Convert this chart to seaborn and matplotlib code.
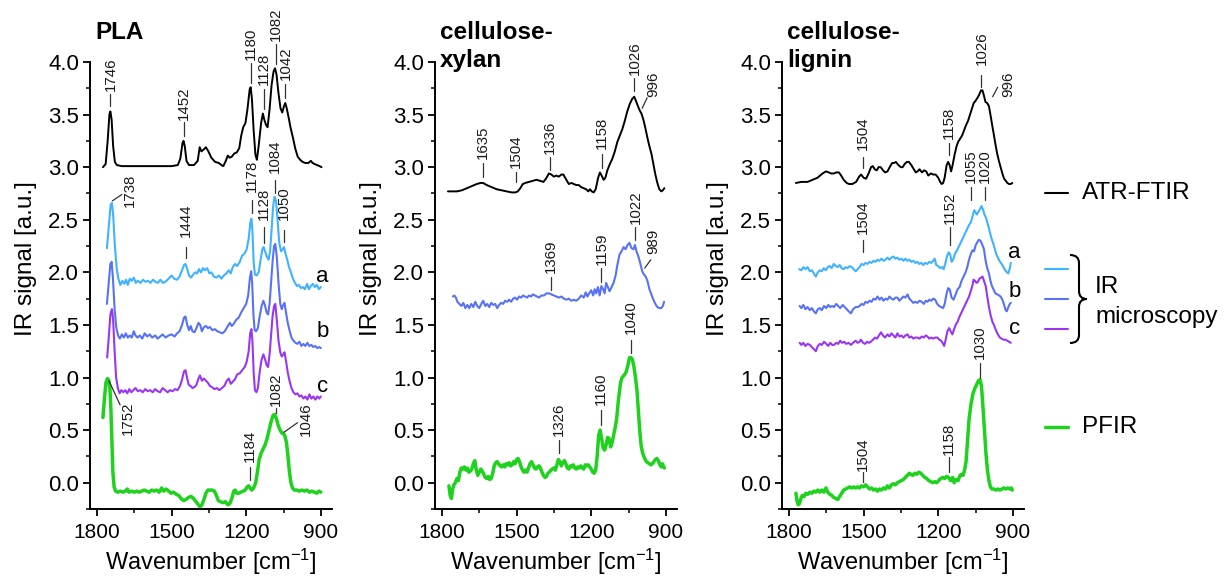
import numpy as np
import pandas as pd
import matplotlib
matplotlib.use("Agg")
import matplotlib.pyplot as plt
import seaborn as sns
from matplotlib.ticker import MultipleLocator, FixedLocator, FormatStrFormatter
from matplotlib.lines import Line2D
from matplotlib.path import Path
from matplotlib.patches import PathPatch

sns.set_theme(style="ticks")
plt.rcParams['font.family'] = ['Liberation Sans', 'DejaVu Sans']
plt.rcParams['mathtext.default'] = 'regular'
for k in ("text.color", "axes.labelcolor", "xtick.color", "ytick.color"):
    plt.rcParams[k] = "black"

# ---------------- data ----------------
# PLA
pla_atr_wn = [1776,1765,1757,1750,1746,1741,1735,1728,1720,1700,1650,1600,1550,1500,1475,1465,1456,1452,1447,1440,1430,1410,1395,1387,1380,1370,1362,1352,1340,1325,1310,1300,1292,1282,1274,1266,1258,1248,1238,1228,1220,1212,1203,1195,1186,1182,1177,1170,1163,1157,1150,1140,1133,1127,1120,1114,1106,1098,1090,1084,1078,1070,1062,1055,1048,1043,1038,1030,1022,1012,1003,993,983,973,963,950,940,933,925,915,905,897]
pla_atr = [3.00,3.03,3.25,3.50,3.53,3.45,3.20,3.05,3.02,3.01,3.01,3.01,3.01,3.01,3.02,3.08,3.23,3.25,3.20,3.06,3.02,3.02,3.06,3.19,3.15,3.17,3.19,3.15,3.09,3.05,3.04,3.02,3.01,3.06,3.11,3.09,3.10,3.13,3.14,3.18,3.30,3.38,3.42,3.55,3.74,3.76,3.65,3.35,3.12,3.07,3.20,3.42,3.51,3.45,3.40,3.38,3.55,3.78,3.91,3.94,3.88,3.70,3.56,3.52,3.58,3.61,3.57,3.48,3.38,3.28,3.18,3.10,3.07,3.05,3.04,3.04,3.06,3.04,3.03,3.02,3.01,3.00]

pla_a_wn = [1760,1752,1745,1740,1735,1728,1720,1713,1706,1698,1690,1683,1676,1668,1660,1652,1644,1636,1625,1615,1605,1595,1585,1575,1565,1555,1545,1535,1525,1512,1500,1490,1478,1468,1458,1450,1444,1437,1430,1422,1413,1405,1397,1390,1382,1374,1366,1357,1348,1340,1330,1320,1310,1300,1290,1280,1270,1262,1254,1245,1236,1226,1216,1206,1198,1190,1183,1179,1175,1170,1165,1158,1150,1142,1135,1130,1124,1117,1110,1104,1098,1092,1086,1080,1074,1067,1060,1053,1048,1042,1035,1028,1020,1012,1004,996,988,980,972,964,955,948,940,932,924,916,908,900]
pla_a = [2.23,2.45,2.64,2.66,2.55,2.25,2.02,1.93,1.88,1.92,1.89,1.93,1.88,1.94,1.92,1.95,1.90,1.92,1.90,1.93,1.91,1.92,1.90,1.93,1.91,1.90,1.93,1.90,1.91,1.94,1.97,1.94,1.93,1.96,2.02,2.07,2.08,2.03,1.97,1.95,1.98,2.00,1.99,2.03,2.00,2.04,2.02,2.04,1.99,2.00,1.96,1.95,1.97,1.94,1.97,1.99,2.02,1.99,2.05,2.08,2.06,2.10,2.16,2.18,2.22,2.32,2.48,2.51,2.40,2.10,1.98,1.97,2.00,2.12,2.22,2.24,2.20,2.15,2.12,2.20,2.40,2.62,2.72,2.68,2.50,2.28,2.20,2.22,2.24,2.18,2.12,2.05,2.00,1.94,1.90,1.87,1.88,1.85,1.86,1.84,1.89,1.84,1.87,1.89,1.86,1.88,1.84,1.86]

pla_b_wn = [1760,1752,1746,1741,1736,1729,1722,1715,1708,1700,1692,1684,1676,1668,1660,1652,1645,1637,1628,1618,1608,1598,1588,1578,1566,1556,1546,1536,1524,1512,1500,1488,1478,1468,1458,1450,1444,1437,1430,1423,1416,1408,1400,1392,1385,1378,1370,1362,1354,1346,1336,1326,1316,1306,1296,1286,1276,1266,1258,1250,1240,1230,1220,1210,1200,1192,1185,1180,1176,1171,1166,1160,1153,1146,1138,1131,1125,1118,1112,1106,1100,1094,1088,1083,1077,1070,1063,1057,1051,1046,1040,1033,1026,1018,1010,1002,994,986,978,970,962,954,946,938,930,922,914,906,900]
pla_b = [1.70,1.92,2.08,2.10,1.95,1.65,1.47,1.40,1.37,1.41,1.38,1.42,1.38,1.40,1.38,1.44,1.40,1.38,1.40,1.37,1.42,1.39,1.41,1.38,1.40,1.37,1.39,1.41,1.38,1.40,1.41,1.39,1.42,1.44,1.50,1.57,1.58,1.50,1.45,1.49,1.44,1.43,1.47,1.52,1.50,1.44,1.48,1.49,1.47,1.48,1.45,1.46,1.44,1.43,1.42,1.44,1.48,1.52,1.49,1.51,1.55,1.57,1.62,1.66,1.70,1.78,1.95,2.01,1.90,1.60,1.45,1.44,1.47,1.58,1.68,1.73,1.69,1.62,1.60,1.70,1.90,2.10,2.25,2.27,2.15,1.90,1.70,1.65,1.69,1.71,1.62,1.52,1.45,1.38,1.35,1.33,1.32,1.34,1.30,1.32,1.30,1.33,1.30,1.31,1.29,1.30,1.28,1.29,1.28]

pla_c_wn = [1759,1752,1746,1740,1735,1729,1723,1716,1709,1702,1694,1686,1678,1670,1662,1654,1645,1636,1626,1616,1606,1596,1586,1576,1566,1556,1546,1536,1526,1516,1506,1496,1486,1476,1466,1458,1450,1444,1438,1431,1424,1416,1408,1400,1392,1386,1378,1370,1362,1354,1346,1338,1328,1318,1308,1298,1288,1278,1270,1262,1254,1246,1236,1226,1216,1206,1198,1190,1184,1179,1175,1170,1165,1159,1153,1146,1138,1131,1125,1118,1112,1106,1100,1094,1088,1083,1077,1070,1063,1057,1051,1046,1040,1033,1026,1018,1010,1002,994,986,978,970,962,954,946,938,930,922,914,906,900]
pla_c = [1.19,1.40,1.60,1.65,1.55,1.25,1.00,0.90,0.85,0.88,0.86,0.88,0.85,0.89,0.86,0.88,0.90,0.87,0.88,0.86,0.89,0.87,0.88,0.86,0.89,0.87,0.86,0.90,0.88,0.86,0.88,0.87,0.89,0.88,0.92,0.98,1.06,1.07,1.00,0.93,0.92,0.90,0.91,0.93,0.99,1.02,0.97,0.99,0.97,0.95,0.92,0.91,0.89,0.90,0.88,0.90,0.92,0.97,0.99,0.94,0.96,0.98,1.03,1.04,1.07,1.10,1.15,1.25,1.42,1.46,1.35,1.05,0.88,0.86,0.90,1.05,1.17,1.22,1.18,1.12,1.10,1.22,1.40,1.58,1.68,1.70,1.55,1.35,1.24,1.20,1.22,1.24,1.16,1.05,0.97,0.90,0.86,0.84,0.85,0.82,0.83,0.80,0.82,0.79,0.84,0.80,0.82,0.79,0.82,0.80,0.82]

pla_pfir_wn = [1776,1770,1764,1758,1753,1748,1744,1740,1736,1731,1725,1716,1706,1696,1686,1678,1672,1660,1650,1640,1630,1620,1610,1600,1590,1580,1570,1560,1550,1540,1532,1522,1512,1502,1492,1482,1472,1462,1452,1442,1432,1422,1412,1402,1392,1386,1378,1370,1362,1354,1346,1336,1328,1320,1312,1304,1294,1284,1274,1266,1258,1250,1244,1238,1230,1222,1212,1204,1196,1190,1184,1178,1170,1162,1155,1148,1140,1132,1124,1116,1108,1100,1092,1086,1080,1072,1064,1056,1050,1044,1038,1032,1026,1020,1014,1006,996,986,976,966,956,946,936,926,916,908,900]
pla_pfir = [0.62,0.80,0.95,0.99,0.98,0.90,0.70,0.40,0.10,-0.04,-0.08,-0.09,-0.08,-0.09,-0.08,-0.06,-0.09,-0.08,-0.09,-0.08,-0.09,-0.08,-0.07,-0.08,-0.09,-0.07,-0.08,-0.07,-0.09,-0.05,-0.08,-0.06,-0.08,-0.10,-0.09,-0.11,-0.12,-0.15,-0.17,-0.16,-0.14,-0.13,-0.15,-0.18,-0.21,-0.23,-0.21,-0.16,-0.10,-0.07,-0.07,-0.07,-0.08,-0.12,-0.17,-0.18,-0.19,-0.18,-0.21,-0.20,-0.15,-0.08,-0.07,-0.10,-0.10,-0.09,-0.08,-0.07,-0.04,-0.03,-0.05,-0.07,-0.05,0.00,0.10,0.22,0.28,0.32,0.36,0.42,0.50,0.58,0.64,0.65,0.62,0.55,0.50,0.47,0.47,0.44,0.38,0.25,0.10,0.00,-0.05,-0.07,-0.07,-0.08,-0.07,-0.08,-0.07,-0.09,-0.08,-0.09,-0.10,-0.08,-0.09]

# cellulose-xylan
xyl_atr_wn = [1776,1760,1740,1720,1700,1680,1660,1645,1635,1620,1600,1580,1560,1540,1520,1505,1495,1485,1475,1465,1450,1435,1420,1405,1392,1382,1370,1360,1350,1340,1330,1320,1312,1300,1290,1280,1270,1260,1250,1240,1230,1220,1212,1205,1198,1190,1182,1172,1165,1158,1150,1143,1135,1125,1115,1105,1095,1085,1075,1065,1055,1045,1035,1027,1020,1012,1005,998,990,982,974,966,958,950,942,934,926,918,912,906]
xyl_atr = [2.77,2.77,2.77,2.78,2.80,2.82,2.84,2.85,2.85,2.83,2.81,2.79,2.78,2.77,2.76,2.76,2.77,2.80,2.84,2.85,2.86,2.87,2.88,2.87,2.86,2.89,2.94,2.93,2.91,2.92,2.91,2.93,2.93,2.88,2.84,2.85,2.84,2.83,2.83,2.81,2.80,2.79,2.77,2.79,2.77,2.76,2.79,2.90,2.95,2.92,2.88,2.90,2.97,3.03,3.08,3.15,3.24,3.30,3.36,3.44,3.53,3.60,3.65,3.67,3.63,3.58,3.54,3.51,3.45,3.37,3.28,3.20,3.13,3.03,2.93,2.85,2.79,2.77,2.78,2.80]

xyl_ir_wn = [1756,1750,1744,1738,1730,1722,1714,1706,1698,1690,1682,1674,1666,1658,1650,1642,1634,1626,1618,1610,1602,1594,1586,1578,1570,1562,1554,1546,1538,1530,1522,1514,1506,1498,1490,1482,1474,1466,1458,1450,1442,1434,1426,1418,1410,1400,1390,1380,1370,1360,1350,1340,1330,1320,1310,1300,1290,1280,1270,1260,1250,1240,1230,1222,1215,1208,1200,1192,1186,1180,1173,1166,1159,1152,1146,1140,1133,1126,1118,1110,1102,1094,1086,1078,1070,1062,1054,1046,1038,1030,1024,1018,1010,1002,995,988,981,974,966,958,950,942,934,926,918,912,907]
xyl_ir = [1.77,1.78,1.76,1.72,1.70,1.68,1.71,1.66,1.69,1.66,1.70,1.67,1.72,1.68,1.66,1.70,1.73,1.68,1.70,1.67,1.71,1.69,1.70,1.66,1.69,1.71,1.70,1.73,1.72,1.74,1.72,1.75,1.76,1.74,1.77,1.76,1.78,1.77,1.76,1.78,1.77,1.79,1.78,1.77,1.76,1.78,1.78,1.80,1.80,1.79,1.78,1.77,1.76,1.77,1.75,1.74,1.75,1.73,1.74,1.73,1.75,1.78,1.76,1.81,1.77,1.80,1.83,1.78,1.84,1.80,1.86,1.78,1.87,1.84,1.80,1.90,1.86,1.82,1.86,1.90,1.97,2.08,2.17,2.20,2.24,2.22,2.26,2.28,2.23,2.22,2.26,2.20,2.15,2.08,2.01,1.98,1.96,1.92,1.84,1.79,1.74,1.70,1.67,1.66,1.66,1.68,1.72]

xyl_pfir_wn = [1772,1767,1762,1757,1752,1746,1740,1734,1728,1722,1716,1710,1704,1698,1692,1686,1680,1674,1668,1662,1656,1650,1644,1638,1632,1626,1620,1614,1608,1602,1596,1590,1584,1578,1572,1566,1560,1554,1548,1542,1536,1530,1524,1518,1512,1506,1500,1494,1488,1482,1476,1470,1464,1458,1452,1446,1440,1434,1428,1422,1416,1410,1404,1398,1392,1386,1380,1374,1368,1362,1356,1350,1344,1338,1332,1326,1320,1314,1308,1302,1296,1290,1284,1278,1272,1266,1260,1254,1248,1242,1236,1230,1224,1218,1212,1206,1200,1194,1188,1182,1176,1170,1164,1158,1152,1146,1140,1134,1128,1122,1116,1110,1104,1098,1090,1082,1076,1068,1060,1052,1046,1040,1034,1028,1022,1016,1010,1005,999,993,985,978,972,966,960,954,948,942,936,930,924,918,914,910,906]
xyl_pfir = [-0.03,-0.12,-0.15,-0.06,-0.02,0.00,0.04,0.02,0.10,0.14,0.13,0.15,0.12,0.14,0.10,0.11,0.13,0.18,0.21,0.12,0.07,0.10,0.13,0.11,0.08,0.05,0.04,0.06,0.03,0.04,0.09,0.16,0.19,0.20,0.18,0.16,0.15,0.17,0.15,0.18,0.17,0.19,0.16,0.17,0.20,0.18,0.22,0.23,0.20,0.15,0.12,0.10,0.12,0.10,0.14,0.18,0.20,0.17,0.14,0.13,0.15,0.16,0.14,0.10,0.07,0.05,0.06,0.09,0.10,0.12,0.13,0.14,0.12,0.17,0.22,0.20,0.16,0.19,0.21,0.18,0.14,0.13,0.16,0.15,0.17,0.14,0.13,0.15,0.14,0.16,0.14,0.13,0.17,0.16,0.17,0.15,0.13,0.10,0.09,0.12,0.25,0.45,0.50,0.42,0.33,0.31,0.36,0.43,0.42,0.34,0.38,0.45,0.52,0.60,0.80,0.95,1.00,1.02,1.05,1.12,1.19,1.19,1.17,1.10,1.00,0.88,0.68,0.50,0.35,0.28,0.23,0.20,0.19,0.18,0.17,0.18,0.20,0.22,0.23,0.21,0.17,0.15,0.18,0.16,0.14]

# cellulose-lignin
lig_atr_wn = [1772,1750,1725,1705,1685,1665,1651,1640,1630,1620,1610,1599,1590,1580,1568,1559,1545,1530,1518,1510,1500,1490,1480,1470,1463,1455,1447,1440,1431,1422,1413,1404,1395,1385,1377,1370,1360,1350,1343,1335,1326,1318,1308,1298,1290,1283,1275,1265,1257,1248,1240,1230,1220,1210,1200,1192,1186,1180,1174,1166,1160,1154,1148,1142,1134,1126,1120,1112,1104,1096,1088,1080,1072,1064,1057,1050,1042,1035,1028,1022,1016,1010,1003,996,990,983,977,970,963,956,949,942,935,928,922,915,908,902]
lig_atr = [2.85,2.86,2.86,2.88,2.90,2.94,2.96,2.95,2.94,2.94,2.95,2.95,2.92,2.88,2.85,2.84,2.84,2.86,2.91,2.93,2.90,2.89,2.94,3.00,3.01,2.98,2.97,3.00,3.00,2.97,2.95,2.96,3.00,3.04,3.04,3.05,3.02,3.00,3.00,3.03,3.05,3.05,3.02,2.98,2.95,2.96,2.98,2.95,2.97,2.96,2.92,2.94,2.93,2.93,2.90,2.86,2.84,2.85,2.90,3.02,3.05,3.02,2.96,3.02,3.12,3.20,3.24,3.27,3.30,3.35,3.40,3.44,3.50,3.56,3.61,3.63,3.66,3.69,3.73,3.73,3.68,3.62,3.61,3.58,3.50,3.40,3.32,3.22,3.13,3.06,3.00,2.94,2.89,2.87,2.85,2.84,2.84,2.85]

lig_a_wn = [1759,1750,1742,1734,1725,1716,1708,1700,1692,1684,1676,1668,1660,1652,1644,1636,1628,1620,1612,1604,1596,1588,1580,1572,1564,1556,1548,1540,1532,1524,1516,1508,1500,1492,1484,1476,1468,1460,1452,1444,1436,1428,1420,1412,1404,1396,1388,1380,1372,1364,1356,1348,1340,1332,1324,1316,1308,1300,1292,1284,1276,1268,1260,1252,1244,1236,1228,1220,1214,1208,1200,1192,1184,1178,1172,1165,1158,1152,1146,1140,1132,1124,1116,1108,1100,1092,1084,1076,1068,1060,1055,1050,1044,1038,1032,1026,1020,1014,1008,1002,996,990,984,978,972,966,960,954,948,942,936,930,924,918,912,908]
lig_a = [2.03,2.02,2.05,2.03,2.05,2.01,2.02,1.99,1.96,2.00,2.02,2.01,2.04,2.02,2.05,2.06,2.04,2.08,2.06,2.05,2.07,2.04,2.03,2.05,2.04,2.06,2.05,2.03,2.01,2.03,2.05,2.08,2.07,2.09,2.08,2.10,2.09,2.11,2.10,2.12,2.11,2.13,2.11,2.12,2.14,2.12,2.14,2.15,2.13,2.14,2.12,2.13,2.11,2.13,2.11,2.12,2.10,2.11,2.09,2.10,2.08,2.09,2.07,2.09,2.08,2.10,2.09,2.11,2.13,2.07,2.06,2.04,2.05,2.03,2.08,2.15,2.19,2.17,2.10,2.12,2.18,2.21,2.25,2.29,2.33,2.37,2.41,2.45,2.48,2.55,2.59,2.57,2.55,2.58,2.60,2.63,2.60,2.55,2.52,2.47,2.42,2.36,2.31,2.27,2.22,2.17,2.14,2.11,2.09,2.07,2.04,2.02,2.00,1.99,2.04,2.09]

lig_b_wn = [1757,1750,1742,1734,1725,1716,1708,1700,1692,1684,1676,1668,1659,1650,1642,1634,1626,1619,1610,1602,1594,1584,1576,1568,1560,1551,1542,1532,1524,1516,1508,1500,1492,1484,1476,1468,1460,1452,1444,1436,1428,1420,1412,1404,1396,1388,1380,1372,1364,1356,1348,1340,1332,1323,1316,1308,1300,1292,1283,1275,1266,1258,1250,1243,1236,1228,1220,1212,1204,1196,1188,1180,1174,1166,1160,1154,1146,1138,1130,1122,1114,1106,1098,1090,1083,1076,1068,1062,1056,1049,1042,1036,1030,1024,1016,1010,1004,996,990,984,976,970,962,955,949,942,936,929,924,918,912,908]
lig_b = [1.68,1.66,1.69,1.65,1.67,1.64,1.66,1.63,1.61,1.65,1.66,1.64,1.68,1.66,1.69,1.67,1.68,1.67,1.70,1.68,1.66,1.69,1.67,1.65,1.63,1.61,1.65,1.67,1.67,1.68,1.70,1.69,1.72,1.71,1.73,1.72,1.75,1.74,1.77,1.74,1.76,1.73,1.75,1.74,1.77,1.75,1.74,1.76,1.76,1.73,1.75,1.77,1.76,1.79,1.75,1.73,1.71,1.72,1.71,1.73,1.72,1.70,1.73,1.72,1.74,1.73,1.75,1.74,1.70,1.68,1.67,1.66,1.70,1.80,1.85,1.84,1.76,1.74,1.79,1.84,1.86,1.92,1.96,2.00,2.05,2.12,2.18,2.21,2.20,2.26,2.29,2.31,2.30,2.27,2.22,2.12,2.05,1.99,1.92,1.87,1.83,1.80,1.79,1.78,1.77,1.74,1.70,1.64,1.63,1.67,1.70,1.71]

lig_c_wn = [1757,1750,1742,1734,1725,1716,1708,1700,1692,1684,1676,1668,1659,1650,1642,1634,1626,1619,1610,1602,1594,1586,1578,1570,1560,1551,1542,1532,1524,1516,1511,1502,1494,1486,1478,1471,1462,1454,1446,1438,1430,1422,1414,1404,1396,1388,1380,1372,1364,1356,1348,1340,1332,1323,1316,1308,1300,1292,1283,1275,1266,1258,1250,1243,1236,1228,1220,1212,1203,1196,1188,1180,1176,1170,1163,1156,1150,1143,1136,1128,1122,1114,1106,1096,1086,1076,1068,1062,1058,1052,1046,1040,1034,1028,1022,1016,1009,1002,996,988,982,976,968,960,952,945,938,930,922,915,908]
lig_c = [1.33,1.31,1.33,1.30,1.32,1.31,1.29,1.27,1.25,1.30,1.32,1.31,1.34,1.32,1.30,1.33,1.31,1.31,1.33,1.32,1.35,1.33,1.34,1.32,1.33,1.31,1.33,1.35,1.33,1.34,1.36,1.33,1.32,1.34,1.33,1.34,1.36,1.38,1.37,1.40,1.43,1.40,1.38,1.41,1.39,1.42,1.40,1.38,1.42,1.39,1.40,1.38,1.40,1.41,1.38,1.39,1.37,1.38,1.38,1.37,1.39,1.38,1.40,1.39,1.37,1.38,1.37,1.38,1.38,1.36,1.35,1.32,1.30,1.36,1.44,1.47,1.44,1.41,1.46,1.51,1.53,1.58,1.62,1.67,1.72,1.77,1.83,1.88,1.93,1.92,1.90,1.91,1.94,1.95,1.96,1.92,1.87,1.76,1.67,1.58,1.53,1.50,1.45,1.41,1.38,1.37,1.36,1.36,1.35,1.34,1.33]

lig_pfir_wn = [1772,1768,1763,1758,1752,1746,1739,1732,1724,1716,1708,1700,1692,1684,1676,1668,1660,1651,1644,1636,1628,1620,1612,1604,1596,1588,1580,1572,1564,1556,1548,1540,1532,1524,1516,1508,1500,1492,1484,1476,1468,1460,1452,1444,1436,1428,1420,1412,1404,1396,1388,1380,1372,1364,1356,1348,1340,1332,1324,1316,1310,1302,1294,1286,1278,1270,1262,1254,1246,1238,1230,1222,1214,1206,1198,1190,1182,1174,1166,1158,1150,1142,1136,1128,1120,1114,1108,1100,1094,1088,1082,1076,1068,1060,1052,1044,1038,1032,1026,1020,1014,1008,1002,996,990,984,976,968,960,952,944,936,928,920,912,906,902]
lig_pfir = [-0.10,-0.17,-0.21,-0.20,-0.15,-0.12,-0.13,-0.10,-0.11,-0.09,-0.10,-0.08,-0.09,-0.07,-0.09,-0.07,-0.09,-0.05,-0.09,-0.11,-0.12,-0.14,-0.15,-0.16,-0.13,-0.10,-0.07,-0.06,-0.05,-0.04,-0.05,-0.04,-0.05,-0.04,-0.05,-0.03,-0.04,-0.02,-0.04,-0.06,-0.05,-0.07,-0.06,-0.08,-0.06,-0.07,-0.05,-0.06,-0.03,-0.05,-0.02,-0.01,-0.02,0.00,0.01,0.02,0.03,0.05,0.07,0.09,0.08,0.07,0.09,0.08,0.10,0.09,0.07,0.05,0.04,0.02,0.01,0.00,0.01,0.00,0.02,0.04,0.05,0.04,0.06,0.05,0.02,0.05,0.00,0.03,0.02,0.06,0.08,0.07,0.12,0.20,0.40,0.60,0.75,0.85,0.90,0.94,0.97,0.98,0.92,0.72,0.50,0.28,0.12,0.02,-0.04,-0.06,-0.06,-0.07,-0.06,-0.07,-0.06,-0.05,-0.06,-0.05,-0.06,-0.05,-0.07]

# peak labels: (text, wavenumber, line bottom, line top, text bottom)
pla_atr_peaks = [("1746",1746,3.58,3.70,3.72),("1452",1452,3.30,3.43,3.45),("1180",1180,3.80,3.99,4.02),
                 ("1128",1128,3.55,3.74,3.78),("1082",1082,3.98,4.17,4.20),("1042",1042,3.66,3.79,3.83)]
pla_ir_peaks = [("1444",1444,2.14,2.24,2.34),("1178",1178,2.56,2.69,2.76),("1128",1128,2.28,2.43,2.50),
                ("1084",1084,2.75,2.88,2.94),("1050",1050,2.29,2.40,2.50)]
pla_pfir_peaks = [("1184",1184,0.03,0.15,0.20),("1082",1082,0.66,0.71,0.73)]
xyl_atr_peaks = [("1635",1635,2.91,3.04,3.08),("1504",1504,2.86,2.95,2.99),("1336",1365,2.97,3.10,3.13),
                 ("1158",1158,2.99,3.13,3.17),("1026",1026,3.72,3.85,3.88)]
xyl_ir_peaks = [("1369",1362,1.83,1.96,1.99),("1159",1159,1.91,2.04,2.07),("1022",1022,2.31,2.43,2.46)]
xyl_pfir_peaks = [("1326",1329,0.28,0.41,0.44),("1160",1160,0.55,0.69,0.74),("1040",1040,1.23,1.36,1.41)]
lig_atr_peaks = [("1504",1504,2.99,3.10,3.16),("1158",1158,3.12,3.23,3.27),("1026",1026,3.76,3.88,3.97)]
lig_ir_peaks = [("1504",1504,2.19,2.31,2.36),("1152",1152,2.26,2.43,2.46),("1055",1067,2.69,2.81,2.85),
                ("1020",1013,2.69,2.81,2.85)]
lig_pfir_peaks = [("1504",1504,0.01,0.10,0.11),("1158",1158,0.10,0.24,0.26),("1030",1032,1.00,1.14,1.18)]
# slanted leaders: (text, x0, y0, x1, y1, text x, text y, vertical alignment)
pla_slant = [("1738",1738,2.68,1700,2.74,1668,2.62,"bottom"),("1752",1752,0.97,1707,0.74,1675,0.77,"top"),
             ("1046",1048,0.48,994,0.57,962,0.44,"bottom")]
xyl_slant = [("996",995,3.56,975,3.66,950,3.67,"bottom"),("989",985,2.04,960,2.12,950,2.17,"bottom")]
lig_slant = [("996",981,3.67,961,3.76,920,3.67,"bottom")]

C_ATR, C_A, C_B, C_C, C_PFIR = "#000000", "#3fb3ff", "#5872f5", "#9a36f2", "#1ed21e"

panels = [
    dict(title=["PLA"], curves=[(pla_atr_wn, pla_atr, C_ATR, 1.4), (pla_a_wn, pla_a, C_A, 1.5),
                               (pla_b_wn, pla_b, C_B, 1.5), (pla_c_wn, pla_c, C_C, 1.5),
                               (pla_pfir_wn, pla_pfir, C_PFIR, 2.5)],
         peaks=pla_atr_peaks + pla_ir_peaks + pla_pfir_peaks, slant=pla_slant,
         abc=[("a", 1.91), ("b", 1.39), ("c", 0.865)], left=90),
    dict(title=["cellulose-", "xylan"], curves=[(xyl_atr_wn, xyl_atr, C_ATR, 1.4), (xyl_ir_wn, xyl_ir, C_B, 1.5),
                                               (xyl_pfir_wn, xyl_pfir, C_PFIR, 2.5)],
         peaks=xyl_atr_peaks + xyl_ir_peaks + xyl_pfir_peaks, slant=xyl_slant, abc=[], left=435),
    dict(title=["cellulose-", "lignin"], curves=[(lig_atr_wn, lig_atr, C_ATR, 1.4), (lig_a_wn, lig_a, C_A, 1.5),
                                                (lig_b_wn, lig_b, C_B, 1.5), (lig_c_wn, lig_c, C_C, 1.5),
                                                (lig_pfir_wn, lig_pfir, C_PFIR, 2.5)],
         peaks=lig_atr_peaks + lig_ir_peaks + lig_pfir_peaks, slant=lig_slant,
         abc=[("a", 2.14), ("b", 1.77), ("c", 1.41)], left=782),
]

W, H = 1224, 577
fig = plt.figure(figsize=(W / 100, H / 100), dpi=100)
AX_W, AX_TOP, AX_BOT = 242, 62, 509
LABEL_COLOR = "#1a1a1a"
PEAK_FS = 10.8

for p in panels:
    ax = fig.add_axes([p["left"] / W, 1 - AX_BOT / H, AX_W / W, (AX_BOT - AX_TOP) / H])
    for wn, vals, col, lw in p["curves"]:
        df = pd.DataFrame({"wn": wn, "sig": vals})
        sns.lineplot(data=df, x="wn", y="sig", color=col, linewidth=lw, ax=ax,
                     estimator=None, sort=False)
    ax.set_xlim(1828, 855)
    ax.set_ylim(-0.25, 4.0)
    ax.xaxis.set_major_locator(FixedLocator([1800, 1500, 1200, 900]))
    ax.xaxis.set_minor_locator(FixedLocator([1650, 1350, 1050]))
    ax.yaxis.set_major_locator(MultipleLocator(0.5))
    ax.yaxis.set_minor_locator(MultipleLocator(0.25))
    ax.yaxis.set_major_formatter(FormatStrFormatter("%.1f"))
    sns.despine(ax=ax)
    for s in ("left", "bottom"):
        ax.spines[s].set_linewidth(1.4)
        ax.spines[s].set_color("black")
    ax.tick_params(which="major", length=5, width=1.3, color="black", pad=3)
    ax.tick_params(which="minor", length=3, width=1.1, color="black")
    ax.tick_params(axis="x", which="major", pad=5, labelsize=15)
    ax.tick_params(axis="y", which="major", labelsize=16)
    ax.set_xlabel("Wavenumber [cm$^{-1}$]", fontsize=17)
    ax.set_ylabel("IR signal [a.u.]", fontsize=17.5)
    ax.xaxis.set_label_coords(0.5, -0.085)
    ax.yaxis.set_label_coords(-0.22, 0.56)

    for txt, x, y0, y1, yt in p["peaks"]:
        ax.plot([x, x], [y0, y1], color="#333333", lw=0.9, clip_on=False)
        ax.text(x, yt, txt, rotation=90, ha="center", va="bottom", fontsize=PEAK_FS,
                color=LABEL_COLOR, clip_on=False)
    for txt, x0, y0, x1, y1, xt, yt, va in p["slant"]:
        ax.plot([x0, x1], [y0, y1], color="#333333", lw=0.9, clip_on=False)
        ax.text(xt, yt, txt, rotation=90, ha="center", va=va, fontsize=PEAK_FS,
                color=LABEL_COLOR, clip_on=False)
    for txt, yb in p["abc"]:
        ax.text(893, yb, txt, ha="center", va="baseline", fontsize=16, clip_on=False)

    tx = p["left"] + 5
    for i, line in enumerate(p["title"]):
        fig.text(tx / W, 1 - (39 + 28 * i) / H, line, fontsize=17.5, fontweight="bold",
                 ha="left", va="baseline")

# legend at right (figure pixel coordinates)
def fx(x):
    return x / W

def fy(y):
    return 1 - y / H

leg = [("ATR-FTIR", C_ATR, 193, 1.5), (None, C_A, 269, 1.5), (None, C_B, 299, 1.5),
       (None, C_C, 329, 1.5), ("PFIR", C_PFIR, 427, 2.5)]
for txt, col, y, lw in leg:
    fig.add_artist(Line2D([fx(1045), fx(1068)], [fy(y), fy(y)], color=col, lw=lw))
    if txt:
        fig.text(fx(1082), fy(y), txt, fontsize=17.5, ha="left", va="center")
fig.text(fx(1095), fy(287), "IR", fontsize=17.5, ha="left", va="center")
fig.text(fx(1095), fy(317), "microscopy", fontsize=17.5, ha="left", va="center")

# curly brace
bx0, bx1, bxt = 1070, 1079, 1087
yt0, ymid, yb0 = 255, 299, 343
verts = [(bx0, yt0), (bx1, yt0), (bx1, yt0 + 8), (bx1, yt0 + 8),
         (bx1, ymid - 8), (bx1, ymid), (bxt, ymid),
         (bx1, ymid), (bx1, ymid + 8),
         (bx1, yb0 - 8), (bx1, yb0 - 8), (bx1, yb0), (bx0, yb0)]
codes = [Path.MOVETO, Path.CURVE3, Path.CURVE3, Path.LINETO,
         Path.LINETO, Path.CURVE3, Path.CURVE3,
         Path.CURVE3, Path.CURVE3,
         Path.LINETO, Path.LINETO, Path.CURVE3, Path.CURVE3]
verts_f = [(fx(x), fy(y)) for x, y in verts]
brace = PathPatch(Path(verts_f, codes), facecolor="none", edgecolor="black", lw=1.5,
                  transform=fig.transFigure)
fig.add_artist(brace)

fig.savefig("out.png", dpi=100)
